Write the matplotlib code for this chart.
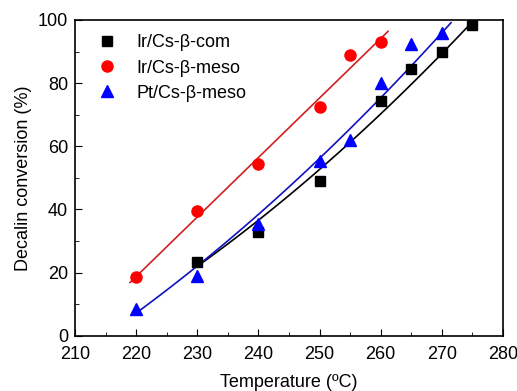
import numpy as np
from matplotlib import pyplot as plt
from matplotlib.ticker import MultipleLocator

plt.rcParams['font.family'] = ['Liberation Sans', 'DejaVu Sans']

t_com = [230, 240, 250, 260, 265, 270, 275]
conv_com = [23.5, 33, 49, 74.5, 84.5, 90, 98.5]
t_ir = [220, 230, 240, 250, 255, 260]
conv_ir = [18.5, 39.5, 54.5, 72.5, 89, 93]
t_pt = [220, 230, 240, 250, 255, 260, 265, 270]
conv_pt = [8.5, 19, 35.5, 55.5, 62, 80, 92.5, 96]

# trend curves
fit_t_com = [230, 240, 250, 260, 270, 275]
fit_com = [23, 35, 52, 72, 90, 98.4]
fit_t_pt = [220, 230, 240, 250, 260, 271.5]
fit_pt = [8, 21.5, 37, 56.5, 77.5, 98]
fit_t_ir = [219, 261.2]

fig = plt.figure(figsize=(5.17, 3.91), dpi=100)
ax = fig.add_axes([0.145, 0.141, 0.828, 0.808])

xc = np.linspace(fit_t_com[0], fit_t_com[-1], 100)
ax.plot(xc, np.polyval(np.polyfit(fit_t_com, fit_com, 2), xc), 'k-', lw=1.2)
xr = np.linspace(fit_t_ir[0], fit_t_ir[-1], 100)
ax.plot(xr, np.polyval(np.polyfit(t_ir, conv_ir, 1), xr), '-', color='#d02020', lw=1.2)
xp = np.linspace(fit_t_pt[0], fit_t_pt[-1], 100)
ax.plot(xp, np.polyval(np.polyfit(fit_t_pt, fit_pt, 2), xp), '-', color='#1010c0', lw=1.2)

ax.plot(t_com, conv_com, 's', color='black', ms=7, ls='none', label='Ir/Cs-β-com')
ax.plot(t_ir, conv_ir, 'o', color='red', ms=8, ls='none', label='Ir/Cs-β-meso')
ax.plot(t_pt, conv_pt, '^', color='blue', ms=8, ls='none', label='Pt/Cs-β-meso')

ax.set_xlim(210, 280)
ax.set_ylim(0, 100)
ax.xaxis.set_major_locator(MultipleLocator(10))
ax.xaxis.set_minor_locator(MultipleLocator(5))
ax.yaxis.set_major_locator(MultipleLocator(20))
ax.yaxis.set_minor_locator(MultipleLocator(10))
ax.tick_params(which='both', direction='in', labelsize=13)
ax.tick_params(which='major', length=5)
ax.tick_params(which='minor', length=3)
ax.tick_params(axis='x', pad=7)
ax.tick_params(axis='y', pad=5)
for s in ax.spines.values():
    s.set_linewidth(1.2)

ax.set_xlabel('Temperature (ºC)', fontsize=13, labelpad=8)
ax.set_ylabel('Decalin conversion (%)', fontsize=13, labelpad=4)
ax.legend(loc='upper left', frameon=False, fontsize=13, handletextpad=0.6,
          borderaxespad=0.4, labelspacing=0.45)

fig.savefig('out.png', dpi=100)
